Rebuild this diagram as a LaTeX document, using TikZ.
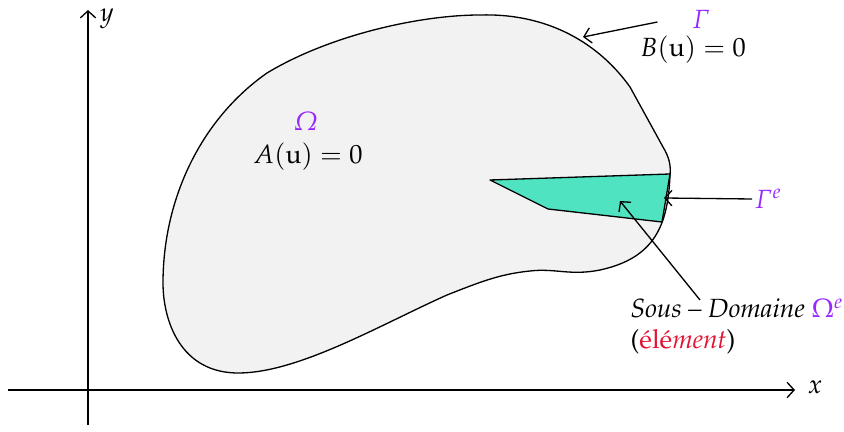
\documentclass[tikz,border=0pt]{standalone}
\usepackage[T1]{fontenc}
\usepackage[slantedGreek]{mathpazo}
\usetikzlibrary{arrows.meta}
\definecolor{lila}{RGB}{150,40,255}
\definecolor{elemcol}{RGB}{80,227,194}
\definecolor{rouge}{RGB}{225,20,50}

\begin{document}
\begin{tikzpicture}[
  x=0.016cm, y=-0.016cm,
  >={Straight Barb[length=3.2pt,width=7pt]},
  axis/.style={->, line width=0.6pt},
  regionbox/.style={draw, fill=gray!10, line width=0.6pt},
  elem/.style={draw, fill=elemcol, line width=0.6pt, line join=round},
  pointer/.style={->, line width=0.6pt},
  lbl/.style={font=\large, inner sep=1pt},
]
  \useasboundingbox (0,0) rectangle (844,432);

  % Axes
  \coordinate (xs) at (8,390);
  \coordinate (xe) at (795,390);
  \coordinate (ys) at (88,425);
  \coordinate (ye) at (88,10);
  \draw[axis] (xs) -- (xe);
  \draw[axis] (ys) -- (ye);
  \node[lbl] (xl) at (815,387) {$x$};
  \node[lbl] (yl) at (107,19) {$y$};

  % Domain
  \path[regionbox] (480,15) .. controls (550,13) and (600,45) .. (630,87)
    -- (663,147) .. controls (669,157) and (671,165) .. (670,175)
    .. controls (668,225) and (655,258) .. (600,270)
    .. controls (570,276) and (555,268) .. (530,271)
    .. controls (500,274) and (480,282) .. (447,295)
    .. controls (380,325) and (300,372) .. (240,373)
    .. controls (180,374) and (163,320) .. (163,283)
    .. controls (163,200) and (200,120) .. (267,73)
    .. controls (330,35) and (420,15) .. cycle;

  % Element
  \coordinate (e1) at (490,180);
  \coordinate (e2) at (670,174);
  \coordinate (e3) at (662,222);
  \coordinate (e4) at (548,209);
  \path[elem] (e1) -- (e2) -- (e3) -- (e4) -- cycle;

  % Labels
  \node[lbl] (om) at (306,121) {\textcolor{lila}{$\Omega$}};
  \node[lbl] (aeq) at (308,157) {$A(\mathrm{u}) = 0$};
  \node[lbl] (gam) at (701,19) {\textcolor{lila}{$\Gamma$}};
  \node[lbl] (beq) at (693,50) {$B(\mathrm{u}) = 0$};
  \node[lbl, anchor=west] (game) at (752,199) {\textcolor{lila}{$\Gamma^e$}};
  \node[lbl, anchor=north west, align=left] (sous) at (628,296)
    {\textit{Sous -- Domaine} \textcolor{lila}{$\upOmega^e$}\\
     (\textcolor{rouge}{\'el\'e\textit{ment}})};

  % Pointers
  \coordinate (gpt) at (583,37);
  \coordinate (gept) at (664,198);
  \coordinate (ept) at (620,201);
  \coordinate (sst) at (700,300);
  \draw[pointer] (gam.west) ++(-32,3) -- (gpt);
  \draw[pointer] (game.west) -- (gept);
  \draw[pointer] (sst) -- (ept);
\end{tikzpicture}
\end{document}
